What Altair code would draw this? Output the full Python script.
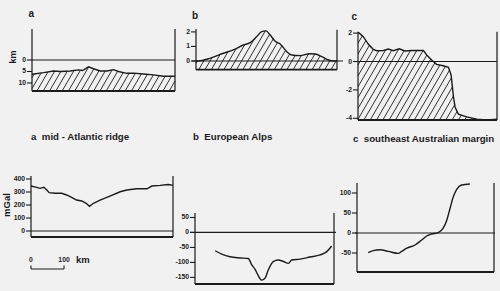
import altair as alt
import numpy as np
import pandas as pd

# ---- topography profiles (distance in km, elevation in km) ----
ridge_km = [0, 35, 65, 85, 115, 140, 152, 170, 185, 205, 225, 245, 260, 285, 305, 335, 365, 395, 430]
ridge_elev = [-6.2, -5.5, -4.8, -5.0, -4.8, -4.3, -4.6, -3.0, -3.8, -4.8, -4.8, -4.2, -5.0, -5.8, -5.7, -6.1, -6.5, -7.1, -7.1]

alps_km = [0, 7, 42, 83, 113, 143, 164, 184, 199, 212, 224, 239, 255, 275, 290, 315, 345, 361, 381, 401, 418, 427]
alps_elev = [0, 0, 0.18, 0.53, 0.76, 1.1, 1.26, 1.68, 2.02, 2.07, 1.8, 1.38, 1.17, 0.64, 0.41, 0.37, 0.5, 0.48, 0.3, 0.07, 0, 0]

aus_km = [0, 4, 16, 31, 46, 57, 77, 92, 107, 125, 142, 163, 198, 208, 223, 238, 258, 274, 282, 289, 294, 304, 329, 360, 390, 421]
aus_elev = [2.05, 2.0, 1.75, 1.23, 0.86, 0.76, 0.78, 0.88, 0.76, 0.9, 0.74, 0.78, 0.78, 0.46, 0.1, -0.2, -0.3, -0.41,
            -0.95, -2.48, -3.2, -3.71, -3.9, -4.06, -4.12, -4.06]

# ---- gravity anomaly profiles (mGal) ----
ridge_g_km = [0, 17, 27, 39, 48, 55, 73, 93, 108, 123, 138, 154, 167, 177, 189, 209, 239, 270, 290, 320, 351, 366, 391, 416, 430]
ridge_g = [346, 336, 328, 336, 315, 295, 290, 290, 277, 259, 238, 231, 213, 190, 213, 238, 269, 302, 315, 325, 325, 346, 351, 358, 351]

alps_g_km = [61, 81, 106, 136, 161, 172, 182, 192, 202, 212, 222, 237, 252, 268, 283, 293, 318, 348, 379, 399, 414]
alps_g = [-61, -72, -81, -85, -87, -108, -123, -145, -159, -153, -125, -97, -92, -97, -103, -92, -89, -82, -75, -64, -45]

aus_g_km = [34, 49, 70, 95, 125, 135, 151, 176, 196, 211, 226, 246, 261, 272, 282, 292, 302, 317, 342]
aus_g = [-49, -44, -42, -46, -51, -46, -38, -30, -17.5, -7.5, -2.5, 0.8, 12, 32, 62, 91, 109, 120, 122.5]

# ---- axis ticks ----
depth_ticks = [0, -5, -10]
depth_labels = ["0", "5", "10"]
alps_ticks = [0, 1, 2]
alps_labels = ["0", "1", "2"]
aus_ticks = [2, 0, -2, -4]
aus_labels = ["2", "0", "-2", "-4"]
ridge_g_ticks = [400, 300, 200, 100, 0]
alps_g_ticks = [50, 0, -50, -100, -150]
aus_g_ticks = [100, 50, 0, -50]

scale_bar_km = [0, 100]
scale_bar_labels = ["0", "100"]

INK = "#1b1b1b"
FONT = "Liberation Sans"
PAPER = "#f1f1f1"

layers = []


def to_px(v, dom, rng):
    return rng[0] + (np.asarray(v, float) - dom[0]) / (dom[1] - dom[0]) * (rng[1] - rng[0])


def from_px(p, dom, rng):
    return dom[0] + (np.asarray(p, float) - rng[0]) / (rng[1] - rng[0]) * (dom[1] - dom[0])


def hatch_lines(km, vals, xdom, xrng, ydom, yrng, gap=6.3, k=0.58):
    """Diagonal hatching of the region between a profile and the panel floor."""
    px = to_px(km, xdom, xrng)
    py = to_px(vals, ydom, yrng)
    xl, xr = xrng
    yb = yrng[0]
    height = yb - py.min()
    rows = []
    c = xl - height * k
    while c < xr:
        if c >= xl:
            x0, y0 = c, yb
        else:
            x0, y0 = xl, yb - (xl - c) / k
        if y0 <= np.interp(x0, px, py):
            c += gap
            continue
        x, y = x0, y0
        while True:
            yn = y - 0.2
            xn = c + (yb - yn) * k
            if xn > xr:
                x, y = xr, yb - (xr - c) / k
                break
            if yn <= np.interp(xn, px, py):
                x, y = xn, yn
                break
            x, y = xn, yn
        if abs(y0 - y) > 0.6:
            rows.append((x0, y0, x, y))
        c += gap
    rows = np.array(rows)
    return pd.DataFrame({
        "x": from_px(rows[:, 0], xdom, xrng),
        "y": from_px(rows[:, 1], ydom, yrng),
        "x2": from_px(rows[:, 2], xdom, xrng),
        "y2": from_px(rows[:, 3], ydom, yrng),
    })


def add_panel(xdom, xrng, ydom, yrng, km, vals, ticks, labels, zero_span,
              right_top, hatch=False, interp="linear", floor_width=1.8):
    sx = alt.Scale(domain=xdom, range=xrng, nice=False, zero=False)
    sy = alt.Scale(domain=ydom, range=yrng, nice=False, zero=False)

    def X(f):
        return alt.X(f, type="quantitative", scale=sx, axis=None)

    def Y(f):
        return alt.Y(f, type="quantitative", scale=sy, axis=None)

    if hatch:
        hd = hatch_lines(km, vals, xdom, xrng, ydom, yrng)
        layers.append(alt.Chart(hd).mark_rule(color="#262626", strokeWidth=0.95).encode(
            x=X("x"), y=Y("y"), x2="x2", y2="y2"))

    # frame: left and right axes, zero line, floor
    left = pd.DataFrame({"x": [xdom[0]], "y": [ydom[0]], "y2": [ydom[1]]})
    right = pd.DataFrame({"x": [xdom[1]], "y": [ydom[0]], "y2": [right_top]})
    layers.append(alt.Chart(left).mark_rule(color=INK, strokeWidth=1.2).encode(
        x=X("x"), y=Y("y"), y2="y2"))
    layers.append(alt.Chart(right).mark_rule(color=INK, strokeWidth=1.2).encode(
        x=X("x"), y=Y("y"), y2="y2"))
    zero = pd.DataFrame({"x": [zero_span[0]], "x2": [zero_span[1]], "y": [0]})
    layers.append(alt.Chart(zero).mark_rule(color=INK, strokeWidth=1.2).encode(
        x=X("x"), x2="x2", y=Y("y")))
    floor = pd.DataFrame({"x": [xdom[0]], "x2": [xdom[1]], "y": [ydom[0]]})
    layers.append(alt.Chart(floor).mark_rule(color=INK, strokeWidth=floor_width).encode(
        x=X("x"), x2="x2", y=Y("y")))

    # ticks and tick labels
    td = pd.DataFrame({"x": [xdom[0]] * len(ticks), "y": ticks, "label": labels})
    layers.append(alt.Chart(td).mark_rule(color=INK, strokeWidth=1.1, xOffset=-5, x2Offset=0).encode(
        x=X("x"), x2="x", y=Y("y")))
    layers.append(alt.Chart(td).mark_text(
        align="right", baseline="middle", dx=-6, fontSize=6.8, fontWeight="bold",
        font=FONT, color=INK).encode(x=X("x"), y=Y("y"), text="label"))

    # profile
    pdf = pd.DataFrame({"km": km, "v": vals})
    layers.append(alt.Chart(pdf).mark_line(color=INK, strokeWidth=1.4, interpolate=interp).encode(
        x=X("km"), y=Y("v")))
    return sx


def add_text(text, x, y, size=9.7, angle=0, align="left", baseline="alphabetic"):
    kw = dict(align=align, baseline=baseline, fontSize=size, fontWeight="bold", font=FONT, color=INK)
    if angle:
        kw["angle"] = angle
    layers.append(alt.Chart(pd.DataFrame({"t": [text]})).mark_text(**kw).encode(
        x=alt.value(x), y=alt.value(y), text="t"))


# top row: topography
add_panel([0, 430], [32, 175], [-13.5, 13.5], [91, 29], ridge_km, ridge_elev,
          depth_ticks, depth_labels, [0, 430], 13.5, hatch=True)
add_panel([0, 427], [196, 337], [-0.6, 2.2], [69.7, 29], alps_km, alps_elev,
          alps_ticks, alps_labels, [-13, 445], 2.14, hatch=True, interp="monotone")
add_panel([0, 421], [358, 497], [-4.12, 2.1], [120, 31.7], aus_km, aus_elev,
          aus_ticks, aus_labels, [0, 421], 2.1, hatch=True)

# bottom row: gravity anomalies
sx_ridge_g = add_panel([0, 430], [31, 173], [-46, 423], [237, 176], ridge_g_km, ridge_g,
                       ridge_g_ticks, [str(t) for t in ridge_g_ticks], [0, 430], 423)
add_panel([0, 421], [195, 334], [-172, 65], [284, 213], alps_g_km, alps_g,
          alps_g_ticks, [str(t) for t in alps_g_ticks], [-15, 427], 65, interp="monotone")
add_panel([0, 415], [357, 494], [-97.5, 125], [272, 183], aus_g_km, aus_g,
          aus_g_ticks, [str(t) for t in aus_g_ticks], [-6, 418], 125, interp="monotone")

# 100 km scale bar under the ridge gravity panel
bar = pd.DataFrame({"x": [scale_bar_km[0]], "x2": [scale_bar_km[1]]})
layers.append(alt.Chart(bar).mark_rule(color=INK, strokeWidth=1.2).encode(
    x=alt.X("x", type="quantitative", scale=sx_ridge_g, axis=None), x2="x2", y=alt.value(269)))
ends = pd.DataFrame({"x": scale_bar_km, "label": scale_bar_labels})
layers.append(alt.Chart(ends).mark_rule(color=INK, strokeWidth=1.1).encode(
    x=alt.X("x", type="quantitative", scale=sx_ridge_g, axis=None), y=alt.value(265.5), y2=alt.value(269)))
layers.append(alt.Chart(ends).mark_text(
    align="center", baseline="alphabetic", fontSize=6.8, fontWeight="bold", font=FONT, color=INK).encode(
    x=alt.X("x", type="quantitative", scale=sx_ridge_g, axis=None), y=alt.value(262), text="label"))
add_text("km", 76, 263, size=9.5)

# panel letters and titles
add_text("a", 28.5, 17, size=10)
add_text("b", 192, 19, size=10)
add_text("c", 351.5, 20, size=10)
add_text("km", 13, 57, size=9, angle=270, align="center", baseline="middle")
add_text("mGal", 7, 205, size=9.5, angle=270, align="center", baseline="middle")
add_text("a\u00a0\u00a0mid - Atlantic ridge", 31, 140)
add_text("b\u00a0\u00a0European Alps", 193, 140)
add_text("c\u00a0\u00a0southeast Australian margin", 353, 142)

chart = alt.layer(*layers).resolve_scale(
    x="independent", y="independent"
).properties(
    width=500, height=291, autosize="none", padding=0, background=PAPER
).configure_view(stroke=None)

chart.save("out.html", embed_options={"renderer": "svg", "actions": False})
